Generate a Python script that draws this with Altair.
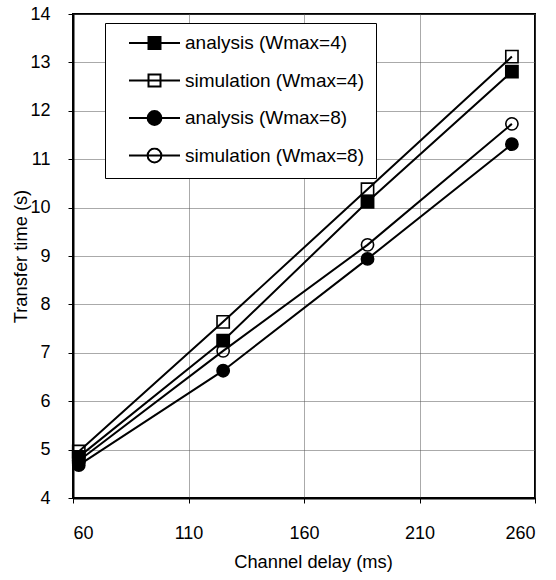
import altair as alt
import pandas as pd

# ---- data ----
delay = [62.5, 125, 187.5, 250]
series_names = ["analysis (Wmax=4)", "simulation (Wmax=4)",
                "analysis (Wmax=8)", "simulation (Wmax=8)"]
analysis_w4 = [4.85, 7.25, 10.12, 12.81]
simulation_w4 = [4.96, 7.64, 10.38, 13.12]
analysis_w8 = [4.68, 6.63, 8.94, 11.31]
simulation_w8 = [4.77, 7.04, 9.23, 11.73]
x_ticks = [60, 110, 160, 210, 260]
y_ticks = [4, 5, 6, 7, 8, 9, 10, 11, 12, 13, 14]

rows = []
for name, vals in zip(series_names, [analysis_w4, simulation_w4, analysis_w8, simulation_w8]):
    for xv, yv in zip(delay, vals):
        rows.append({"delay": xv, "time": yv, "series": name})
df = pd.DataFrame(rows)

# ---- styling ----
FONT = "Liberation Sans"
fills = ["black", "transparent", "black", "transparent"]
strokes = ["black", "black", "black", "black"]
plot_shapes = ["square", "square", "circle", "circle"]
s = 0.235
r = 0.27
sq = f"M-{s},-{s}H{s}V{s}H-{s}Z"
circ = f"M-{r},0A{r},{r} 0 1,0 {r},0A{r},{r} 0 1,0 -{r},0Z"
legend_shapes = ["M-1,0H1" + sq, "M-1,0H1" + sq, "M-1,0H1" + circ, "M-1,0H1" + circ]

x_enc = alt.X("delay:Q",
              scale=alt.Scale(domain=[60, 260], nice=False, zero=False),
              axis=alt.Axis(values=x_ticks, title="Channel delay (ms)",
                            titleX=240, titleY=64, titleBaseline="middle",
                            titleAlign="center", labelPadding=21))
y_enc = alt.Y("time:Q",
              scale=alt.Scale(domain=[4, 14], nice=False, zero=False),
              axis=alt.Axis(values=y_ticks, title="Transfer time (s)",
                            titleX=-52, titleY=242, titleBaseline="middle",
                            titleAlign="center", labelPadding=18))

base = alt.Chart(df)

lines = base.mark_line(color="black", strokeWidth=2).encode(
    x=x_enc, y=y_enc, detail="series:N"
)

points = base.mark_point(stroke="black", strokeWidth=1.6, opacity=1, size=150).encode(
    x=x_enc, y=y_enc,
    shape=alt.Shape("series:N", scale=alt.Scale(domain=series_names, range=plot_shapes), legend=None),
    fill=alt.Fill("series:N", scale=alt.Scale(domain=series_names, range=fills), legend=None),
)

legend = alt.Legend(
    title=None, orient="none", legendX=32, legendY=9,
    padding=12, strokeColor="black", fillColor="white",
    symbolSize=2601, clipHeight=16, symbolOffset=11, labelOffset=4,
    rowPadding=18.5, labelFont=FONT, labelFontSize=19, labelColor="black",
    labelLimit=400, symbolStrokeColor="black", symbolStrokeWidth=2,
)

legend_layer = base.mark_point(stroke="black", strokeWidth=2, opacity=1, size=0).encode(
    x=x_enc, y=y_enc,
    shape=alt.Shape("series:N", scale=alt.Scale(domain=series_names, range=legend_shapes), legend=legend),
    fill=alt.Fill("series:N", scale=alt.Scale(domain=series_names, range=fills), legend=legend),
    stroke=alt.Stroke("series:N", scale=alt.Scale(domain=series_names, range=strokes), legend=legend),
)

chart = alt.layer(lines, points, legend_layer).resolve_scale(
    shape="independent", fill="independent", stroke="independent"
).properties(
    width=462, height=484,
    autosize=alt.AutoSizeParams(type="none"),
    padding={"left": 73, "top": 14, "right": 21, "bottom": 82},
).configure_view(
    stroke="black", strokeWidth=2
).configure_axis(
    labelFont=FONT, labelFontSize=18, labelColor="black",
    titleFont=FONT, titleFontSize=18.3, titleFontWeight="normal", titleColor="black",
    tickColor="black", tickSize=5, tickWidth=1,
    domainColor="black", domainWidth=2,
    gridColor="#555555", gridDash=[1, 1], gridWidth=1,
)

chart.save("out.html", embed_options={"renderer": "svg", "actions": False})
